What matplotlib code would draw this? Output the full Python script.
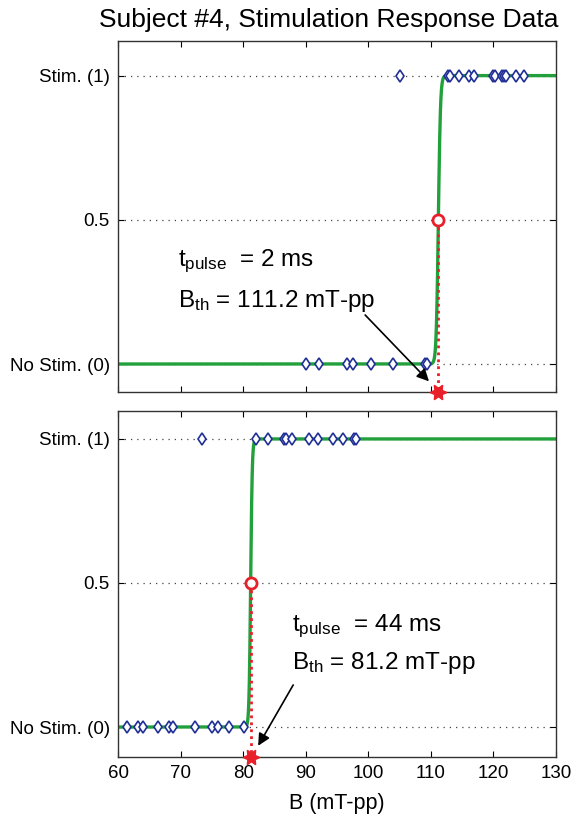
import numpy as np
import matplotlib
matplotlib.use("Agg")
import matplotlib.pyplot as plt

plt.rcParams['font.family'] = ['Liberation Sans', 'DejaVu Sans']
plt.rcParams['mathtext.fontset'] = 'custom'
plt.rcParams['mathtext.rm'] = 'Liberation Sans'
plt.rcParams['mathtext.it'] = 'Liberation Sans'

# ---- data ----
title = "Subject #4, Stimulation Response Data"
ytick_vals = [0, 0.5, 1]
ytick_labels = ["No Stim. (0)", "0.5", "Stim. (1)"]
xtick_vals = [60, 70, 80, 90, 100, 110, 120, 130]

top_nostim = [90.05, 92.17, 96.55, 97.6, 100.43, 104.0, 109.06, 109.33]
top_stim = [105.07, 112.79, 113.06, 114.5, 116.15, 116.95, 119.98, 120.25,
            121.32, 121.69, 122.0, 123.6, 124.9]
top_thresh = 111.2
top_pulse = "2 ms"
top_slope = 6.0

bot_nostim = [61.49, 63.24, 64.04, 66.34, 68.2, 68.84, 72.3, 74.97, 76.03, 77.74, 80.19]
bot_stim = [73.37, 82.0, 83.92, 86.53, 86.8, 87.76, 90.53, 92.02, 94.42, 95.91, 97.77, 97.99]
bot_thresh = 81.2
bot_pulse = "44 ms"
bot_slope = 8.0

GREEN = '#22a03c'
BLUE = '#1f2f96'
RED = '#e8202a'

W, H = 573, 819
fig = plt.figure(figsize=(W / 100, H / 100), dpi=100)

def px_axes(l, r, t, b):
    return fig.add_axes([l / W, (H - b) / H, (r - l) / W, (b - t) / H])

ax1 = px_axes(118, 556, 41, 392)
ax2 = px_axes(118, 556, 411, 757)

panels = [
    (ax1, top_nostim, top_stim, top_thresh, top_pulse, top_slope, (-0.097, 1.12),
     (69.6, 0.355), (69.6, 0.22), (99.5, 0.17), (109.7, -0.06), False),
    (ax2, bot_nostim, bot_stim, bot_thresh, bot_pulse, bot_slope, (-0.104, 1.097),
     (87.8, 0.35), (87.8, 0.222), (88.0, 0.146), (82.4, -0.065), True),
]

xs = np.linspace(60, 130, 4000)
for (ax, nos, sti, th, pulse, k, ylim, t1, t2, atail, ahead, showx) in panels:
    ax.set_xlim(60, 130)
    ax.set_ylim(*ylim)
    for yv in ytick_vals:
        ax.axhline(yv, color='#444444', ls=(0, (1, 4)), lw=0.9, zorder=1)
    ys = 1.0 / (1.0 + np.exp(-k * (xs - th)))
    ax.plot(xs, ys, color=GREEN, lw=2.4, zorder=2)
    ax.plot(nos, np.zeros(len(nos)), ls='none', marker='d', ms=6.0, mfc='white',
            mec=BLUE, mew=1.2, zorder=3)
    ax.plot(sti, np.ones(len(sti)), ls='none', marker='d', ms=6.0, mfc='white',
            mec=BLUE, mew=1.2, zorder=3)
    ax.plot([th, th], [0.5, ylim[0]], color=RED, ls=(0, (1, 1.5)), lw=2.0, zorder=4)
    ax.plot([th], [0.5], marker='o', ms=8, mfc='white', mec=RED, mew=2.0, zorder=5)
    ax.plot([th], [ylim[0]], marker=(6, 1, 30), ms=12, color=RED, zorder=6,
            clip_on=False)
    ax.text(t1[0], t1[1], r'$\mathregular{t_{pulse}}$  = ' + pulse, fontsize=17.5,
            va='center', ha='left')
    ax.text(t2[0], t2[1], r'$\mathregular{B_{th}}$ = %.1f mT-pp' % th, fontsize=17.5,
            va='center', ha='left')
    ax.annotate('', xy=ahead, xytext=atail,
                arrowprops=dict(arrowstyle='-|>', color='k', lw=1.2,
                                mutation_scale=18, shrinkA=0, shrinkB=0))
    ax.set_xticks(xtick_vals)
    ax.set_yticks(ytick_vals)
    ax.set_yticklabels(ytick_labels, fontsize=13.5)
    ax.tick_params(direction='in', length=4, width=0.8, top=True, right=True,
                   labelsize=13.5, pad=6)
    if not showx:
        ax.set_xticklabels([])
    for s in ax.spines.values():
        s.set_linewidth(1.0)
        s.set_color('#333333')

ax2.set_xlabel('B (mT-pp)', fontsize=15.5, labelpad=8)
fig.text(329 / W, 1 - 20 / H, title, fontsize=19, ha='center', va='center')

fig.savefig('out.png', dpi=100)
